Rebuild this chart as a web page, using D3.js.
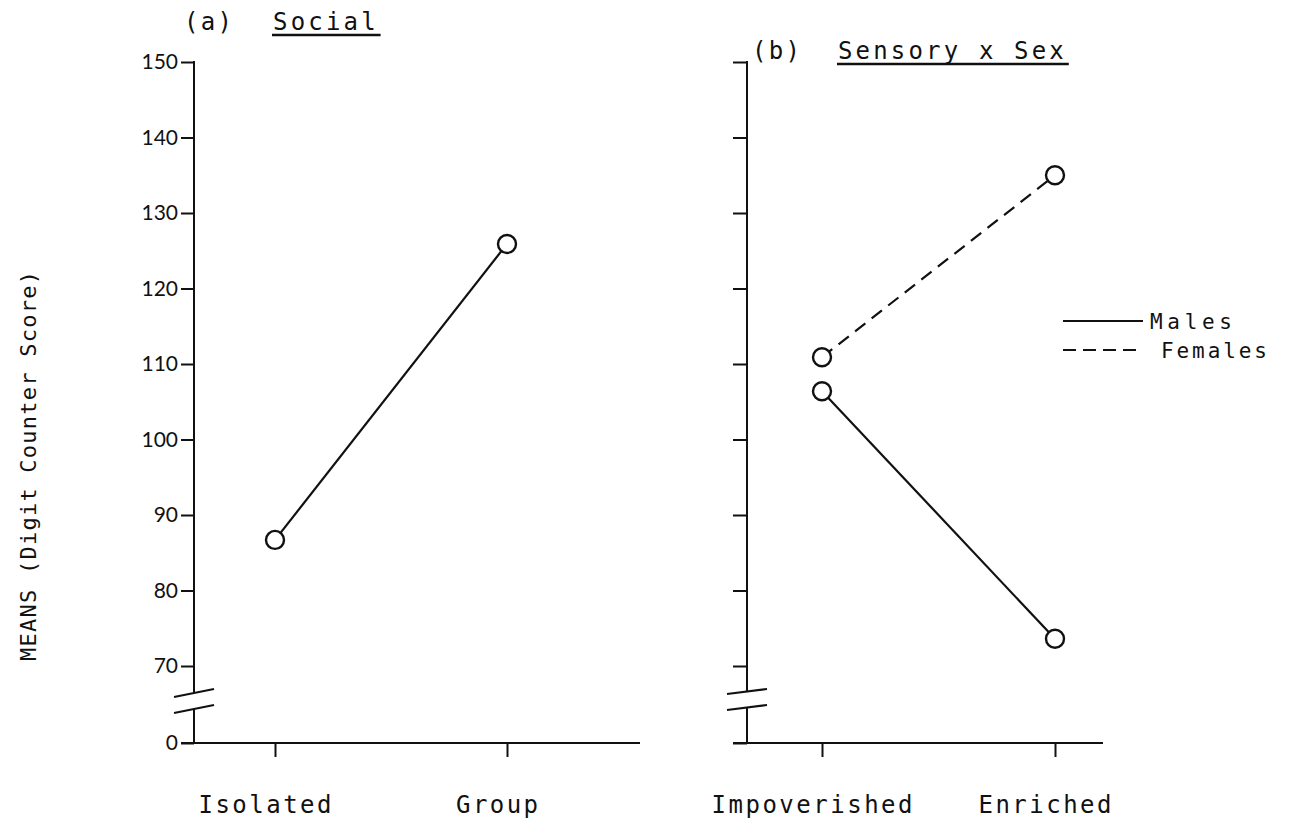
<!DOCTYPE html>
<html>
<head>
<meta charset="utf-8">
<script src="https://cdn.jsdelivr.net/npm/d3@7"></script>
<style>
  html, body { margin: 0; padding: 0; background: #fff; }
  svg { display: block; }
  .mono { font-family: "DejaVu Sans Mono", "Liberation Mono", monospace; fill: #111; }
  .tick text.num { font-family: Lato, "Open Sans", sans-serif; fill: #111; }
</style>
</head>
<body>
<svg id="chart" width="1300" height="823"></svg>
<script>
// ---- data ----
const socialCategories = ["Isolated", "Group"];
const socialMeans = [86.7, 125.9];

const sensoryCategories = ["Impoverished", "Enriched"];
const maleMeans = [106.4, 73.6];
const femaleMeans = [110.9, 135.0];

const yTickValues = [0, 70, 80, 90, 100, 110, 120, 130, 140, 150];
const seriesNames = ["Males", "Females"];

const yTitle = "MEANS (Digit Counter Score)";
const panelA = { tag: "(a)", title: "Social" };
const panelB = { tag: "(b)", title: "Sensory x Sex" };

// ---- layout ----
const ink = "#111";
const svg = d3.select("#chart");

// y axis has a break between 0 and 70, so use a piecewise scale
const y = d3.scaleLinear().domain([0, 70, 150]).range([743, 666, 62]);
const breakTop = 689, breakBottom = 705;

function monoText(g, str, x, yPos, size, width, anchor) {
  return g.append("text")
    .attr("class", "mono")
    .attr("x", x).attr("y", yPos)
    .attr("font-size", size)
    .attr("text-anchor", anchor || "start")
    .attr("textLength", width)
    .attr("lengthAdjust", "spacing")
    .text(str);
}

function drawPanel(opt) {
  const g = svg.append("g");
  const x = d3.scalePoint().domain(opt.categories).range(opt.xRange);

  // y ticks (domain drawn by hand because of the break)
  const yAxis = d3.axisLeft(y)
    .tickValues(yTickValues)
    .tickSize(opt.tickLen)
    .tickSizeOuter(0)
    .tickFormat(opt.labels ? d3.format("d") : "");
  const ya = g.append("g").attr("transform", `translate(${opt.axisX},0)`).call(yAxis);
  ya.select(".domain").remove();
  ya.selectAll(".tick line").attr("stroke", ink).attr("stroke-width", 2);
  ya.selectAll(".tick text")
    .attr("class", "num")
    .attr("font-size", 21)
    .attr("x", -opt.tickLen - 3);

  // vertical axis in two pieces
  g.append("line").attr("x1", opt.axisX).attr("x2", opt.axisX)
    .attr("y1", y(150) - 1).attr("y2", breakTop + opt.breakSlope / 2)
    .attr("stroke", ink).attr("stroke-width", 2);
  g.append("line").attr("x1", opt.axisX).attr("x2", opt.axisX)
    .attr("y1", breakBottom + opt.breakSlope / 2).attr("y2", y(0))
    .attr("stroke", ink).attr("stroke-width", 2);
  // break marks
  [breakTop, breakBottom].forEach(b => {
    g.append("line")
      .attr("x1", opt.axisX - 20).attr("y1", b + opt.breakSlope)
      .attr("x2", opt.axisX + 20).attr("y2", b)
      .attr("stroke", ink).attr("stroke-width", 2);
  });

  // x axis
  const xAxis = d3.axisBottom(x).tickSize(14).tickSizeOuter(0).tickFormat("");
  const xa = g.append("g").attr("transform", `translate(0,${y(0)})`).call(xAxis);
  xa.select(".domain").remove();
  xa.selectAll(".tick line").attr("stroke", ink).attr("stroke-width", 2);
  g.append("line")
    .attr("x1", opt.axisX - opt.tickLen).attr("x2", opt.xEnd)
    .attr("y1", y(0)).attr("y2", y(0))
    .attr("stroke", ink).attr("stroke-width", 2.2);

  // category labels
  opt.categories.forEach((c, i) => {
    monoText(g, c, x(c) - 10, 813, 24, c.length * 17 - 3, "middle");
  });

  // titles
  monoText(g, opt.tag, opt.tagX, opt.titleY, 24, opt.tag.length * 17 - 3);
  const t = monoText(g, opt.title, opt.titleX, opt.titleY, 24, opt.title.length * 17.6 - 3);
  g.append("line")
    .attr("x1", opt.titleX - 1).attr("x2", opt.titleX + opt.title.length * 17.6 + 2)
    .attr("y1", opt.titleY + 5).attr("y2", opt.titleY + 5)
    .attr("stroke", ink).attr("stroke-width", 2.5);

  // series
  opt.series.forEach(s => {
    const pts = opt.categories.map((c, i) => [x(c), y(s.values[i])]);
    g.append("path")
      .attr("d", d3.line()(pts))
      .attr("fill", "none")
      .attr("stroke", ink)
      .attr("stroke-width", 2.2)
      .attr("stroke-dasharray", s.dash || null);
  });
  opt.series.forEach(s => {
    g.selectAll(null)
      .data(s.values)
      .join("circle")
      .attr("cx", (d, i) => x(opt.categories[i]))
      .attr("cy", d => y(d))
      .attr("r", 9)
      .attr("fill", "#fff")
      .attr("stroke", ink)
      .attr("stroke-width", 2.4);
  });
  return g;
}

drawPanel({
  categories: socialCategories,
  xRange: [275, 507],
  axisX: 194,
  tickLen: 13,
  labels: true,
  xEnd: 640,
  breakSlope: 8,
  tag: panelA.tag, tagX: 184,
  title: panelA.title, titleX: 273, titleY: 30,
  series: [{ values: socialMeans }]
});

drawPanel({
  categories: sensoryCategories,
  xRange: [822, 1055],
  axisX: 747,
  tickLen: 14,
  labels: false,
  xEnd: 1103,
  breakSlope: 5,
  tag: panelB.tag, tagX: 752,
  title: panelB.title, titleX: 838, titleY: 59,
  series: [
    { name: seriesNames[0], values: maleMeans },
    { name: seriesNames[1], values: femaleMeans, dash: "13,8" }
  ]
});

// legend
const legend = svg.append("g");
const legendRows = [
  { name: seriesNames[0], dash: null, ly: 321, tx: 1150, w: 82 },
  { name: seriesNames[1], dash: "13,7", ly: 350, tx: 1161, w: 106 }
];
legendRows.forEach(r => {
  legend.append("line")
    .attr("x1", 1063).attr("x2", r.dash ? 1140 : 1143)
    .attr("y1", r.ly).attr("y2", r.ly)
    .attr("stroke", ink).attr("stroke-width", 2)
    .attr("stroke-dasharray", r.dash);
  monoText(legend, r.name, r.tx, r.ly + 8, 21, r.w);
});

// y axis title
svg.append("text")
  .attr("class", "mono")
  .attr("transform", "translate(36,466) rotate(-90)")
  .attr("text-anchor", "middle")
  .attr("font-size", 22)
  .attr("textLength", 390)
  .attr("lengthAdjust", "spacing")
  .text(yTitle);
</script>
</body>
</html>
